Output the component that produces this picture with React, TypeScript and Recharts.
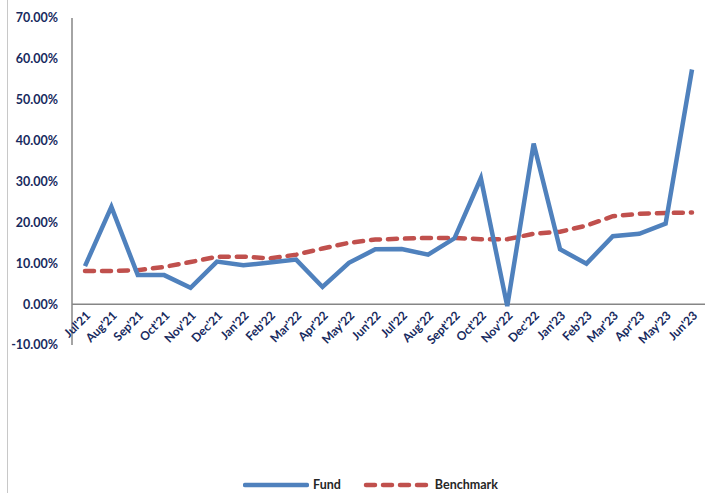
import { LineChart, Line, XAxis, YAxis, ReferenceLine, Legend } from "recharts";

const months = [
    "Jul'21", "Aug'21", "Sep'21", "Oct'21", "Nov'21", "Dec'21",
    "Jan'22", "Feb'22", "Mar'22", "Apr'22", "May'22", "Jun'22",
    "Jul'22", "Aug'22", "Sept'22", "Oct'22", "Nov'22", "Dec'22",
    "Jan'23", "Feb'23", "Mar'23", "Apr'23", "May'23", "Jun'23",
];

const fund = [
    9.3, 23.8, 7.1, 7.1, 4.0, 10.4,
    9.5, 10.2, 10.9, 4.2, 10.1, 13.4,
    13.5, 12.1, 16.1, 30.8, -0.5, 39.3,
    13.4, 9.9, 16.6, 17.2, 19.7, 57.4,
];

const benchmark = [
    8.1, 8.1, 8.3, 9.1, 10.3, 11.6,
    11.6, 11.2, 12.1, 13.6, 15.0, 15.8,
    16.0, 16.2, 16.2, 15.9, 15.9, 17.2,
    17.7, 19.2, 21.5, 22.1, 22.3, 22.4,
];

const yTicks = [-10, 0, 10, 20, 30, 40, 50, 60, 70];

const data = months.map((m, i) => ({ month: m, fund: fund[i], benchmark: benchmark[i] }));

const W = 707;
const H = 493;
const TOP = 18;
const PLOT_BOTTOM = 345;
const ZERO_Y = TOP + (70 / 80) * (PLOT_BOTTOM - TOP);

const FONT = "Lato, 'Open Sans', sans-serif";
const NAVY = "#172a5e";
const FUND_COLOR = "#4f81bd";
const BENCH_COLOR = "#c0504d";

// x labels sit right under the 0% line, like Excel's "next to axis"
const MonthTick = (props: any) => {
    const { x, payload } = props;
    const y = ZERO_Y + 10;
    return (
        <text
            x={x + 4}
            y={y}
            transform={`rotate(-45, ${x + 4}, ${y})`}
            textAnchor="end"
            dominantBaseline="middle"
            fill={NAVY}
            fontSize={12}
            fontWeight={700}
            fontFamily={FONT}
        >
            {payload.value}
        </text>
    );
};

const LegendContent = () => (
    <div style={{ display: "flex", justifyContent: "center", alignItems: "center", paddingLeft: 36, fontFamily: FONT, fontSize: 12.5, fontWeight: 700, color: "#262626" }}>
        <svg width={66} height={10}>
            <line x1={2} y1={5} x2={64} y2={5} stroke={FUND_COLOR} strokeWidth={4.5} strokeLinecap="round" />
        </svg>
        <span style={{ marginLeft: 4, marginRight: 22 }}>Fund</span>
        <svg width={68} height={10}>
            <line x1={3} y1={5} x2={65} y2={5} stroke={BENCH_COLOR} strokeWidth={4.5} strokeLinecap="round" strokeDasharray="9 8" />
        </svg>
        <span style={{ marginLeft: 4 }}>Benchmark</span>
    </div>
);

export default function App() {
    return (
        <div style={{ position: "absolute", left: 0, top: 0, width: W, height: H, background: "#fff" }}>
            <div style={{ position: "absolute", left: 7, top: 0, width: 1, height: H, background: "#c8c8c8" }} />
            <LineChart
                width={W}
                height={H}
                data={data}
                margin={{ top: TOP, right: 2, bottom: 0, left: 0 }}
            >
                <XAxis
                    dataKey="month"
                    interval={0}
                    padding={{ left: 13, right: 13 }}
                    axisLine={false}
                    tickLine={false}
                    height={H - PLOT_BOTTOM - 16}
                    tick={<MonthTick />}
                />
                <YAxis
                    width={72}
                    domain={[-10, 70]}
                    ticks={yTicks}
                    interval={0}
                    tickFormatter={(v: number) => `${v.toFixed(2)}%`}
                    axisLine={{ stroke: "#868686", strokeWidth: 1.5 }}
                    tickLine={false}
                    tickSize={0}
                    tickMargin={14}
                    tick={{ fill: NAVY, fontSize: 12.5, fontWeight: 700, fontFamily: FONT }}
                />
                <ReferenceLine y={0} stroke="#868686" strokeWidth={1.5} />
                <Legend verticalAlign="bottom" height={16} content={<LegendContent />} />
                <Line
                    type="linear"
                    dataKey="benchmark"
                    name="Benchmark"
                    stroke={BENCH_COLOR}
                    strokeWidth={4.5}
                    strokeDasharray="9 8"
                    strokeLinecap="round"
                    dot={false}
                    activeDot={false}
                    isAnimationActive={false}
                />
                <Line
                    type="linear"
                    dataKey="fund"
                    name="Fund"
                    stroke={FUND_COLOR}
                    strokeWidth={4.5}
                    dot={false}
                    activeDot={false}
                    isAnimationActive={false}
                />
            </LineChart>
        </div>
    );
}
